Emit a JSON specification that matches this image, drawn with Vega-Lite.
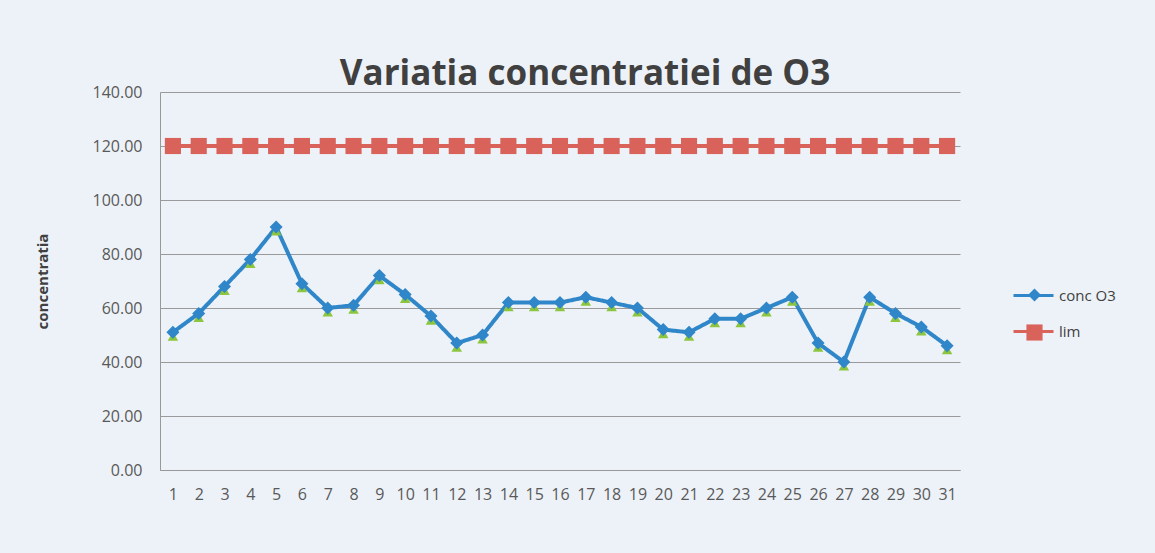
{
  "$schema": "https://vega.github.io/schema/vega-lite/v6.json",
  "autosize": "none",
  "width": 800,
  "height": 378,
  "padding": {"left": 160, "top": 92, "right": 195, "bottom": 83},
  "background": "#edf2f8",
  "title": {
    "text": "Variatia concentratiei de O3",
    "font": "Open Sans",
    "fontSize": 35,
    "fontWeight": "bold",
    "color": "#404040",
    "anchor": "middle",
    "dx": 25,
    "offset": -8
  },
  "config": {
    "view": {"stroke": null},
    "axis": {"labelFont": "Open Sans", "titleFont": "Open Sans", "labelColor": "#595959", "titleColor": "#404040"}
  },
  "data": {
    "values": [
      {"day": 1, "series": "conc O3", "value": 51}, {"day": 2, "series": "conc O3", "value": 58},
      {"day": 3, "series": "conc O3", "value": 68}, {"day": 4, "series": "conc O3", "value": 78},
      {"day": 5, "series": "conc O3", "value": 90}, {"day": 6, "series": "conc O3", "value": 69},
      {"day": 7, "series": "conc O3", "value": 60}, {"day": 8, "series": "conc O3", "value": 61},
      {"day": 9, "series": "conc O3", "value": 72}, {"day": 10, "series": "conc O3", "value": 65},
      {"day": 11, "series": "conc O3", "value": 57}, {"day": 12, "series": "conc O3", "value": 47},
      {"day": 13, "series": "conc O3", "value": 50}, {"day": 14, "series": "conc O3", "value": 62},
      {"day": 15, "series": "conc O3", "value": 62}, {"day": 16, "series": "conc O3", "value": 62},
      {"day": 17, "series": "conc O3", "value": 64}, {"day": 18, "series": "conc O3", "value": 62},
      {"day": 19, "series": "conc O3", "value": 60}, {"day": 20, "series": "conc O3", "value": 52},
      {"day": 21, "series": "conc O3", "value": 51}, {"day": 22, "series": "conc O3", "value": 56},
      {"day": 23, "series": "conc O3", "value": 56}, {"day": 24, "series": "conc O3", "value": 60},
      {"day": 25, "series": "conc O3", "value": 64}, {"day": 26, "series": "conc O3", "value": 47},
      {"day": 27, "series": "conc O3", "value": 40}, {"day": 28, "series": "conc O3", "value": 64},
      {"day": 29, "series": "conc O3", "value": 58}, {"day": 30, "series": "conc O3", "value": 53},
      {"day": 31, "series": "conc O3", "value": 46},
      {"day": 1, "series": "lim", "value": 120}, {"day": 2, "series": "lim", "value": 120},
      {"day": 3, "series": "lim", "value": 120}, {"day": 4, "series": "lim", "value": 120},
      {"day": 5, "series": "lim", "value": 120}, {"day": 6, "series": "lim", "value": 120},
      {"day": 7, "series": "lim", "value": 120}, {"day": 8, "series": "lim", "value": 120},
      {"day": 9, "series": "lim", "value": 120}, {"day": 10, "series": "lim", "value": 120},
      {"day": 11, "series": "lim", "value": 120}, {"day": 12, "series": "lim", "value": 120},
      {"day": 13, "series": "lim", "value": 120}, {"day": 14, "series": "lim", "value": 120},
      {"day": 15, "series": "lim", "value": 120}, {"day": 16, "series": "lim", "value": 120},
      {"day": 17, "series": "lim", "value": 120}, {"day": 18, "series": "lim", "value": 120},
      {"day": 19, "series": "lim", "value": 120}, {"day": 20, "series": "lim", "value": 120},
      {"day": 21, "series": "lim", "value": 120}, {"day": 22, "series": "lim", "value": 120},
      {"day": 23, "series": "lim", "value": 120}, {"day": 24, "series": "lim", "value": 120},
      {"day": 25, "series": "lim", "value": 120}, {"day": 26, "series": "lim", "value": 120},
      {"day": 27, "series": "lim", "value": 120}, {"day": 28, "series": "lim", "value": 120},
      {"day": 29, "series": "lim", "value": 120}, {"day": 30, "series": "lim", "value": 120},
      {"day": 31, "series": "lim", "value": 120}
    ]
  },
  "encoding": {
    "x": {
      "field": "day", "type": "ordinal",
      "scale": {"type": "point", "padding": 0.5},
      "axis": {"title": null, "labelAngle": 0, "labelFontSize": 16, "labelPadding": 16, "ticks": false, "domainColor": "#999999", "labelOverlap": false}
    },
    "y": {
      "field": "value", "type": "quantitative",
      "scale": {"domain": [0, 140]},
      "axis": {"title": "concentratia", "titleFontSize": 15, "titleFontWeight": "bold", "titlePadding": 42, "values": [0, 20, 40, 60, 80, 100, 120, 140], "format": ".2f", "labelFontSize": 16, "labelPadding": 18, "ticks": false, "domain": true, "domainColor": "#999999", "gridColor": "#9a9a9a", "gridWidth": 1}
    }
  },
  "layer": [
    {
      "mark": {"type": "line", "strokeWidth": 4},
      "encoding": {
        "color": {
          "field": "series", "type": "nominal",
          "scale": {"domain": ["conc O3", "lim"], "range": ["#2f86c8", "#d9625a"]},
          "legend": {"title": null, "orient": "none", "legendX": 866, "legendY": 196, "labelExpr": "''", "labelFontSize": 1, "symbolSize": 150, "rowPadding": 22, "symbolStrokeWidth": 0}
        },
        "strokeDash": {
          "field": "series", "type": "nominal",
          "scale": {"domain": ["lim", "conc O3"], "range": [[1, 0], [1, 0]]},
          "legend": {"title": null, "values": ["conc O3", "lim"], "orient": "none", "legendX": 852, "legendY": 182, "labelFont": "Open Sans", "labelFontSize": 15, "labelColor": "#404040", "symbolType": "stroke", "symbolSize": 1600, "symbolStrokeWidth": 3, "rowPadding": 6,
            "encode": {"symbols": {"update": {"stroke": {"signal": "datum.value === 'lim' ? '#d9625a' : '#2f86c8'"}}}}}
        }
      }
    },
    {
      "transform": [{"filter": "datum.series === 'conc O3'"}],
      "mark": {"type": "point", "filled": true, "opacity": 1, "shape": "triangle-up", "color": "#8cc63f", "size": 110, "yOffset": 4}
    },
    {
      "mark": {"type": "point", "filled": true, "opacity": 1},
      "encoding": {
        "color": {"field": "series", "type": "nominal", "scale": {"domain": ["conc O3", "lim"], "range": ["#2f86c8", "#d9625a"]}},
        "shape": {"field": "series", "type": "nominal", "scale": {"domain": ["conc O3", "lim"], "range": ["diamond", "square"]}},
        "size": {"field": "series", "type": "nominal", "scale": {"domain": ["conc O3", "lim"], "range": [170, 260]}, "legend": null}
      }
    }
  ]
}
